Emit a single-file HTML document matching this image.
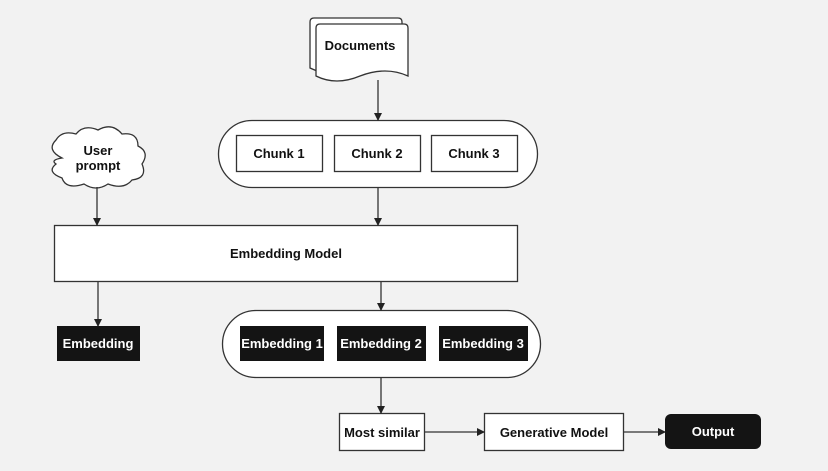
<!DOCTYPE html>
<html><head><style>
html,body{margin:0;padding:0;background:#f2f2f2;}
svg{display:block;}
text{font-family:"Liberation Sans",sans-serif;font-weight:bold;font-size:13px;}
</style></head><body>
<svg width="828" height="471" viewBox="0 0 828 471" xmlns="http://www.w3.org/2000/svg">
<defs>
<marker id="a" markerWidth="8" markerHeight="8" refX="7" refY="4" orient="auto" markerUnits="userSpaceOnUse">
<path d="M0,0 L8,4 L0,8 z" fill="#222"/>
</marker>
</defs>
<rect width="828" height="471" fill="#f2f2f2"/>
<g stroke="#333" stroke-width="1.3" fill="#fff">
<!-- documents -->
<path d="M310,22 Q310,18 314,18 L398,18 Q402,18 402,22 L402,68 Q380,60 355,70 Q330,78 310,68 Z"/>
<path d="M316,28 Q316,24 320,24 L404,24 Q408,24 408,28 L408,76 Q386,66 360,76 Q336,86 316,76 Z"/>
<!-- cloud -->
<path d="M62,158 Q46,150 56,140 Q62,130 76,134 Q84,124 98,130 Q112,122 122,134 Q138,132 138,146 Q150,152 142,164 Q148,178 132,180 Q124,190 108,184 Q96,192 84,184 Q66,190 62,178 Q46,172 56,164 Q50,160 62,158 Z"/>
<!-- stadiums -->
<rect x="218.5" y="120.5" width="319" height="67" rx="33.5"/>
<rect x="222.5" y="310.5" width="318" height="67" rx="33.5"/>
<!-- chunks -->
<rect x="236.5" y="135.5" width="86" height="36"/>
<rect x="334.5" y="135.5" width="86" height="36"/>
<rect x="431.5" y="135.5" width="86" height="36"/>
<!-- model -->
<rect x="54.5" y="225.5" width="463" height="56"/>
<rect x="339.5" y="413.5" width="85" height="37"/>
<rect x="484.5" y="413.5" width="139" height="37"/>
</g>
<g fill="#141414">
<rect x="57" y="326" width="83" height="35"/>
<rect x="240" y="326" width="84" height="35"/>
<rect x="337" y="326" width="89" height="35"/>
<rect x="439" y="326" width="89" height="35"/>
<rect x="665" y="414" width="96" height="35" rx="6"/>
</g>
<g stroke="#333" stroke-width="1.3" fill="none" marker-end="url(#a)">
<line x1="378" y1="80" x2="378" y2="120"/>
<line x1="378" y1="188" x2="378" y2="225"/>
<line x1="97" y1="187" x2="97" y2="225"/>
<line x1="98" y1="282" x2="98" y2="326"/>
<line x1="381" y1="282" x2="381" y2="310"/>
<line x1="381" y1="378" x2="381" y2="413"/>
<line x1="425" y1="432" x2="484" y2="432"/>
<line x1="624" y1="432" x2="665" y2="432"/>
</g>
<g text-anchor="middle" fill="#111">
<text x="360" y="50">Documents</text>
<text x="98" y="155">User</text>
<text x="98" y="170">prompt</text>
<text x="279" y="158">Chunk 1</text>
<text x="377" y="158">Chunk 2</text>
<text x="474" y="158">Chunk 3</text>
<text x="286" y="258">Embedding Model</text>
<text x="382" y="437">Most similar</text>
<text x="554" y="437">Generative Model</text>
</g>
<g text-anchor="middle" fill="#fff">
<text x="98" y="348">Embedding</text>
<text x="282" y="348">Embedding 1</text>
<text x="381" y="348">Embedding 2</text>
<text x="483" y="348">Embedding 3</text>
<text x="713" y="436">Output</text>
</g>
</svg>
</body></html>
